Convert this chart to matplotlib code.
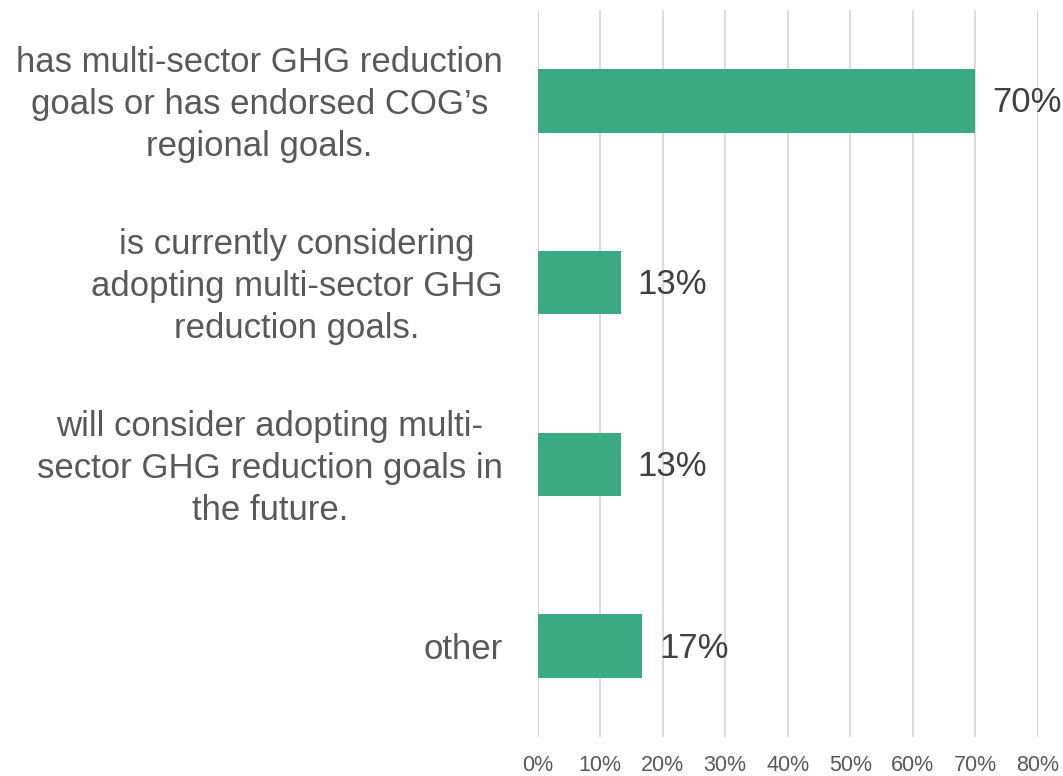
import matplotlib
matplotlib.use("Agg")
import matplotlib.pyplot as plt
from matplotlib.ticker import FuncFormatter
from matplotlib.transforms import ScaledTranslation

categories = [
    "has multi-sector GHG reduction\ngoals or has endorsed COG\u2019s\nregional goals.",
    "is currently considering\nadopting multi-sector GHG\nreduction goals.",
    "will consider adopting multi-\nsector GHG reduction goals in\nthe future.",
    "other",
]
values = [70.0, 13.3, 13.3, 16.7]
x_ticks = [0, 10, 20, 30, 40, 50, 60, 70, 80]

plt.rcParams['font.family'] = ['Liberation Sans', 'DejaVu Sans']

fig = plt.figure(figsize=(10.63, 7.76), dpi=100)
ax = fig.add_axes([537.5/1063, 1 - 737/776, (1038 - 537.5)/1063, (737 - 10)/776])

ypos = list(range(len(categories)))
ax.barh(ypos, values, height=0.35, color='#3BAA82', zorder=3)
ax.set_ylim(len(categories) - 0.5, -0.5)
ax.set_xlim(0, 80)
ax.set_xticks(x_ticks)
ax.xaxis.set_major_formatter(FuncFormatter(lambda v, p: f"{v:.0f}%"))
ax.grid(axis='x', color='#D9D9D9', linewidth=1.3, zorder=0)
ax.set_yticks(ypos)
ax.set_yticklabels(categories, fontsize=25, color='#595959', multialignment='center', linespacing=1.34)
ax.tick_params(axis='y', length=0, pad=25)
ax.tick_params(axis='x', length=0, labelsize=15.5, labelcolor='#595959', pad=13)
for s in ax.spines.values():
    s.set_visible(False)

shift = ScaledTranslation(0, 4/100, fig.dpi_scale_trans)
for lab in ax.get_yticklabels():
    if "\n" in lab.get_text():
        lab.set_transform(lab.get_transform() + shift)

for y, v in zip(ypos, values):
    ax.annotate(f"{v:.0f}%", xy=(v, y), xytext=(17, -2), textcoords='offset pixels',
                ha='left', va='center', fontsize=25, color='#404040')

fig.savefig("out.png", dpi=100)
